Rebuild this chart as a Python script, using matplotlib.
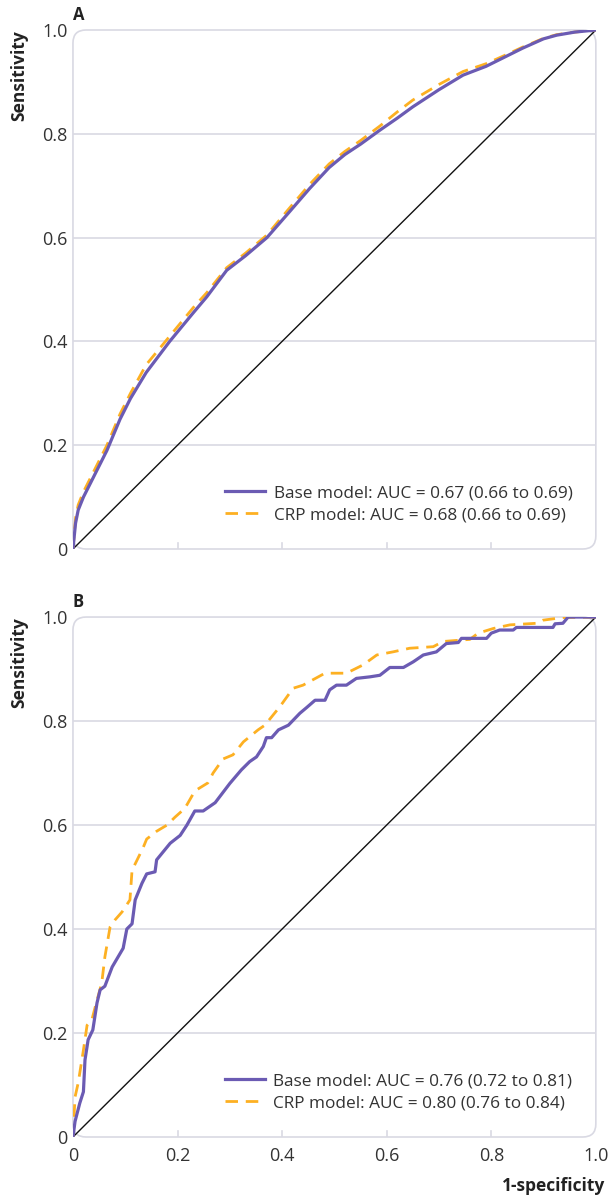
import matplotlib.pyplot as plt
from matplotlib.patches import FancyBboxPatch

plt.rcParams['font.family'] = ['Open Sans', 'DejaVu Sans']

# ROC curve points (1-specificity, sensitivity)
a_base_x = [0, 0.005, 0.01, 0.02, 0.04, 0.065, 0.09, 0.11, 0.14, 0.185, 0.23, 0.256,
            0.294, 0.33, 0.371, 0.41, 0.453, 0.49, 0.52, 0.55, 0.587, 0.62, 0.65, 0.70,
            0.746, 0.79, 0.83, 0.86, 0.90, 0.925, 0.96, 1.0]
a_base_y = [0, 0.05, 0.075, 0.10, 0.14, 0.19, 0.25, 0.29, 0.34, 0.40, 0.455, 0.486,
            0.537, 0.565, 0.60, 0.645, 0.695, 0.735, 0.76, 0.78, 0.807, 0.83, 0.852, 0.885,
            0.913, 0.93, 0.95, 0.965, 0.983, 0.99, 0.996, 1.0]
a_crp_x = [0, 0.005, 0.01, 0.02, 0.04, 0.065, 0.09, 0.11, 0.14, 0.185, 0.23, 0.256,
           0.294, 0.33, 0.371, 0.41, 0.453, 0.49, 0.52, 0.55, 0.587, 0.62, 0.65, 0.70,
           0.746, 0.79, 0.83, 0.86, 0.90, 0.925, 0.96, 1.0]
a_crp_y = [0, 0.06, 0.085, 0.11, 0.15, 0.20, 0.26, 0.30, 0.355, 0.41, 0.465, 0.494,
           0.542, 0.57, 0.605, 0.652, 0.703, 0.742, 0.766, 0.787, 0.815, 0.842, 0.865, 0.895,
           0.92, 0.935, 0.953, 0.967, 0.984, 0.991, 0.996, 1.0]

b_base_x = [0, 0.004, 0.013, 0.02, 0.023, 0.029, 0.038, 0.046, 0.052, 0.061, 0.075,
            0.096, 0.103, 0.113, 0.119, 0.132, 0.141, 0.157, 0.16, 0.186, 0.205, 0.218,
            0.233, 0.249, 0.272, 0.30, 0.322, 0.338, 0.351, 0.364, 0.370, 0.38, 0.393,
            0.412, 0.434, 0.447, 0.463, 0.482, 0.491, 0.504, 0.523, 0.542, 0.568, 0.587,
            0.606, 0.632, 0.651, 0.67, 0.695, 0.714, 0.737, 0.743, 0.791, 0.80, 0.816,
            0.842, 0.848, 0.918, 0.922, 0.937, 0.947, 1.0]
b_base_y = [0, 0.03, 0.065, 0.087, 0.148, 0.187, 0.206, 0.258, 0.283, 0.29, 0.327,
            0.363, 0.40, 0.41, 0.456, 0.488, 0.506, 0.51, 0.533, 0.565, 0.58, 0.60,
            0.627, 0.627, 0.643, 0.68, 0.706, 0.722, 0.731, 0.751, 0.768, 0.768, 0.783,
            0.792, 0.815, 0.826, 0.84, 0.84, 0.86, 0.869, 0.869, 0.882, 0.885, 0.888,
            0.903, 0.903, 0.914, 0.927, 0.933, 0.949, 0.951, 0.959, 0.959, 0.969, 0.975,
            0.975, 0.98, 0.98, 0.987, 0.988, 1.0, 1.0]
b_crp_x = [0, 0.002, 0.004, 0.01, 0.02, 0.027, 0.036, 0.046, 0.055, 0.061, 0.071, 0.08,
           0.094, 0.109, 0.113, 0.134, 0.141, 0.16, 0.18, 0.195, 0.214, 0.23, 0.237,
           0.258, 0.268, 0.287, 0.306, 0.326, 0.354, 0.367, 0.396, 0.421, 0.44, 0.482,
           0.523, 0.555, 0.581, 0.612, 0.644, 0.689, 0.708, 0.759, 0.775, 0.804, 0.836,
           0.887, 0.899, 0.937, 1.0]
b_crp_y = [0, 0.038, 0.077, 0.104, 0.167, 0.215, 0.225, 0.263, 0.296, 0.346, 0.404, 0.417,
           0.433, 0.456, 0.513, 0.556, 0.573, 0.588, 0.60, 0.615, 0.632, 0.66, 0.668,
           0.681, 0.70, 0.727, 0.735, 0.76, 0.783, 0.792, 0.828, 0.863, 0.869, 0.892,
           0.892, 0.908, 0.927, 0.933, 0.94, 0.943, 0.953, 0.957, 0.969, 0.978, 0.985,
           0.988, 0.994, 0.999, 1.0]

labels_a = ['Base model: AUC = 0.67 (0.66 to 0.69)', 'CRP model: AUC = 0.68 (0.66 to 0.69)']
labels_b = ['Base model: AUC = 0.76 (0.72 to 0.81)', 'CRP model: AUC = 0.80 (0.76 to 0.84)']
ticks = [0, 0.2, 0.4, 0.6, 0.8, 1.0]
tick_labels = ['0', '0.2', '0.4', '0.6', '0.8', '1.0']

purple = '#6b5bb3'
orange = '#fdb022'
grey = '#d9d9e3'
text_col = '#333333'

fig = plt.figure(figsize=(6.08, 12), dpi=100)
ax_a = fig.add_axes([0.12, 0.5425, 0.86, 0.4325])
ax_b = fig.add_axes([0.12, 0.0525, 0.86, 0.4333])

panels = [(ax_a, 'A', a_base_x, a_base_y, a_crp_x, a_crp_y, labels_a),
          (ax_b, 'B', b_base_x, b_base_y, b_crp_x, b_crp_y, labels_b)]

for ax, letter, bx, by, cx, cy, labs in panels:
    ax.set_xlim(0, 1)
    ax.set_ylim(0, 1)
    for s in ax.spines.values():
        s.set_visible(False)
    box = FancyBboxPatch((0, 0), 1, 1, boxstyle='round,pad=0,rounding_size=0.025',
                         transform=ax.transAxes, fill=False, edgecolor=grey,
                         linewidth=1.2, clip_on=False, zorder=1)
    ax.add_patch(box)
    for t in ticks[1:-1]:
        ax.axhline(t, color=grey, linewidth=1.2, zorder=1)
        ax.plot([t, t], [0, 0.012], color=grey, linewidth=1.2, zorder=1)
    ax.plot([0, 1], [0, 1], color='#111111', linewidth=1.0, zorder=2)
    ax.plot(bx, by, color=purple, linewidth=2.3, label=labs[0], zorder=4)
    ax.plot(cx, cy, color=orange, linewidth=2.0, linestyle=(0, (4.5, 2.8)),
            label=labs[1], zorder=3)
    ax.set_yticks(ticks)
    ax.set_yticklabels(tick_labels)
    ax.set_xticks(ticks)
    ax.tick_params(axis='both', length=0, labelsize=13, colors=text_col, pad=4)
    ax.set_ylabel('Sensitivity', fontsize=12.5, fontweight='bold', color='#222222',
                  loc='top', labelpad=10)
    ax.text(0.0, 1.012, letter, transform=ax.transAxes, fontsize=12,
            fontweight='bold', color='#222222', ha='left', va='bottom')
    leg = ax.legend(loc='lower right', frameon=False, fontsize=12.4, handlelength=2.3,
                    borderaxespad=0.5, labelspacing=0.35, handletextpad=0.5,
                    bbox_to_anchor=(0.985, 0.02))
    for t in leg.get_texts():
        t.set_color(text_col)

ax_a.set_xticklabels([])
ax_b.set_xticklabels(tick_labels)
ax_b.tick_params(axis='x', pad=7)
fig.text(0.995, 0.012, '1-specificity', fontsize=12.5, fontweight='bold',
         color='#222222', ha='right', va='center')

fig.savefig('out.png', dpi=100)
